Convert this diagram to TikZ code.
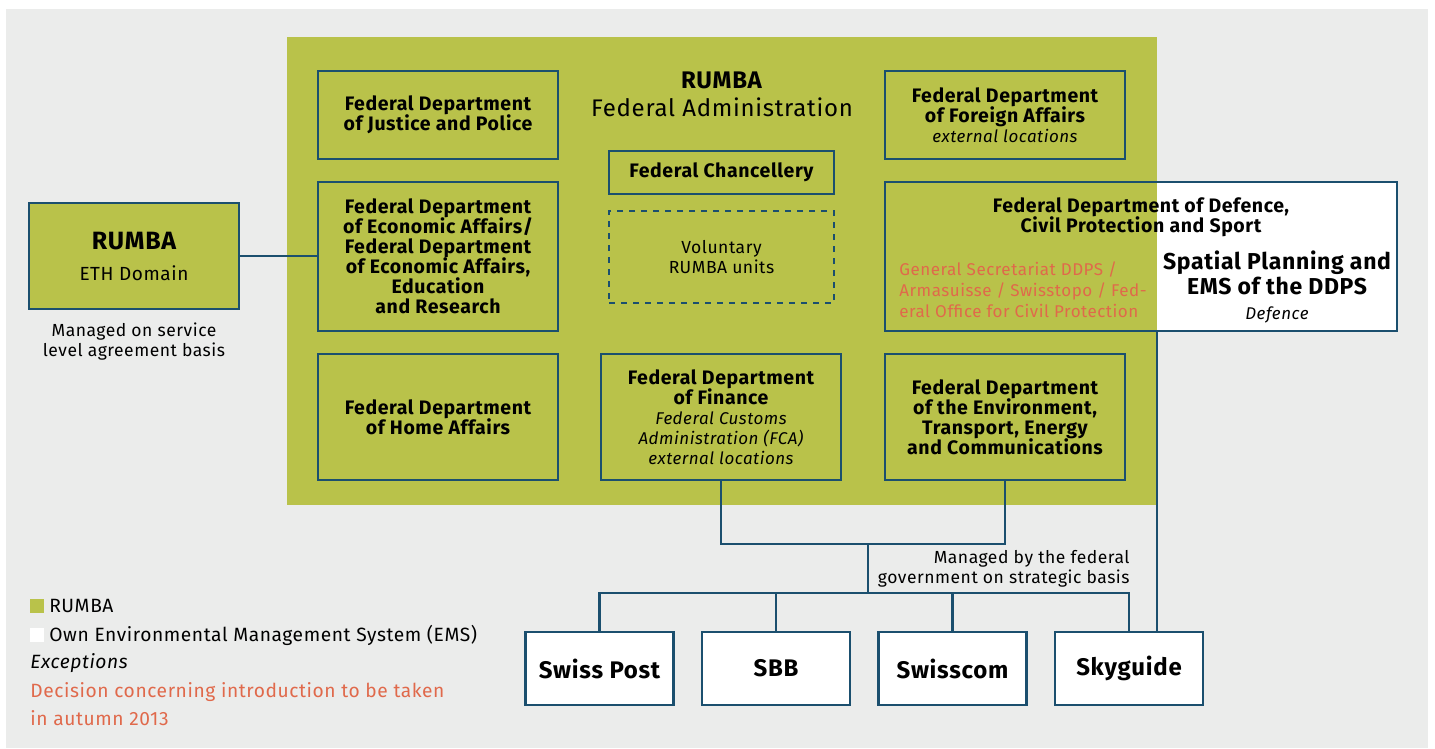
\documentclass[tikz,border=0pt]{standalone}
\usepackage{fontspec}
\setmainfont{Fira Sans}[LetterSpace=3]
\usepackage{xcolor}
\usepackage{tikz}
\usetikzlibrary{positioning}
\definecolor{rumbagreen}{HTML}{B9C24A}
\definecolor{linkblue}{HTML}{1B4F6E}
\definecolor{panelgray}{HTML}{EBECEB}
\definecolor{excred}{HTML}{E0694B}
\setlength{\lineskiplimit}{-\maxdimen}
\newcommand{\deptfont}{\fontsize{9.75}{10}\selectfont\bfseries}
\newcommand{\subfont}{\fontsize{8.5}{10}\selectfont\mdseries\itshape}
\newcommand{\notefont}{\fontsize{8.75}{10}\selectfont}
\newcommand{\bigfont}{\fontsize{11.5}{12.5}\selectfont\bfseries}
\newcommand{\legendfont}{\fontsize{9.6}{14.3}\selectfont}
\tikzset{
  dept/.style={draw=linkblue, line width=1.2pt, fill=rumbagreen, align=center,
    inner sep=0pt, minimum width=120pt, font=\deptfont},
  own/.style={dept, fill=white, minimum width=74pt, minimum height=36.5pt,
    font=\fontsize{12}{12.5}\selectfont\bfseries},
  link/.style={draw=linkblue, line width=1.2pt},
  note/.style={align=center, inner sep=0pt, font=\notefont},
}

\begin{document}
\begin{tikzpicture}[x=0.5pt,y=-0.5pt]
    % basics
    \useasboundingbox (0,0) rectangle (1435,749);
    \fill[white] (0,0) rectangle (1435,749);
    \fill[panelgray] (6,9) rectangle (1428,748);
    \fill[rumbagreen] (287,37) rectangle (1157,505);
    \coordinate (edge) at (1157,505);
    \fill[white] (1157,182) rectangle (1397,331);

    % federal administration
    \node[align=center, inner sep=0pt, font=\fontsize{12}{14}\selectfont] (admin) at (722,94)
        {\textbf{RUMBA}\\Federal Administration};
    \node[dept, minimum height=44pt] (fdjp) at (438,115) {Federal Department\\of Justice and Police};
    \node[dept, minimum height=44pt] (fdfa) at (1005,115)
        {Federal Department\\of Foreign Affairs\\{\subfont external locations}};
    \node[dept, minimum width=112.5pt, minimum height=21.5pt] (fch) at (721.5,172.5) {Federal Chancellery};
    \node[dept, dashed, minimum width=112.5pt, minimum height=46pt, font=\notefont] (vol) at (721.5,257)
        {Voluntary\\RUMBA units};
    \node[dept, minimum height=74.5pt] (fdea) at (438,256.5)
        {Federal Department\\of Economic Affairs/\\Federal Department\\of Economic Affairs,\\Education\\and Research};
    \node[dept, fill=none, minimum width=256pt, minimum height=74.5pt] (ddps) at (1141,256.5) {};
    \node[dept, minimum height=63pt] (fdha) at (438,417) {Federal Department\\of Home Affairs};
    \node[dept, minimum height=63pt] (fdf) at (721,417)
        {Federal Department\\of Finance\\{\subfont Federal Customs}\\{\subfont Administration (FCA)}\\{\subfont external locations}};
    \node[dept, minimum height=63pt] (detec) at (1005,417)
        {Federal Department\\of the Environment,\\Transport, Energy\\and Communications};

    % ddps split
    \node[align=center, inner sep=0pt, font=\deptfont] (ddpstitle) at (1141,217.5)
        {Federal Department of Defence,\\Civil Protection and Sport};
    \node[anchor=west, align=left, inner sep=0pt, text=excred, font=\fontsize{8.5}{10.5}\selectfont] (ddpsgs) at (899,290)
        {General Secretariat DDPS /\\Armasuisse / Swisstopo / Fed-\\eral Office for Civil Protection};
    \node[align=center, inner sep=0pt, font=\bigfont] (ddpsems) at (1277,287)
        {Spatial Planning and\\EMS of the DDPS\\{\subfont Defence}};

    % eth domain
    \node[dept, minimum width=105pt, minimum height=53pt, font=\fontsize{9.5}{15.5}\selectfont] (eth) at (134,256)
        {{\fontsize{12.5}{15.5}\selectfont\bfseries RUMBA}\\ETH Domain};
    \node[note, below=6pt of eth] (ethnote) {Managed on service\\level agreement basis};
    \draw[link] (eth.east) -- (eth.east -| fdea.west);

    % companies
    \node[own] (post) at (599.5,668.5) {Swiss Post};
    \node[own] (sbb) at (776,668.5) {SBB};
    \node[own] (swisscom) at (952.5,668.5) {Swisscom};
    \node[own] (skyguide) at (1129,668.5) {Skyguide};

    \coordinate (join) at (868,544);
    \coordinate (split) at (868,593);
    \draw[link] (fdf.south) |- (join) -| (detec.south);
    \draw[link] (join) -- (split);
    \draw[link] (post.north) |- (split) -| (skyguide.north);
    \draw[link] (sbb.north) -- (sbb.north |- split);
    \draw[link] (swisscom.north) -- (swisscom.north |- split);
    \draw[link] (ddps.south -| edge) -- (skyguide.north -| edge);
    \node[note, align=right, anchor=north east] (strategic) at (1130,550)
        {Managed by the federal\\government on strategic basis};

    % legend
    \fill[rumbagreen] (30,599) rectangle (44,613);
    \fill[white] (30,628) rectangle (44,642);
    \node[anchor=west, inner sep=0pt, font=\legendfont] (lgrumba) at (49,606) {RUMBA};
    \node[anchor=west, inner sep=0pt, font=\legendfont] (lgems) at (49,635) {Own Environmental Management System (EMS)};
    \node[anchor=west, inner sep=0pt, font=\legendfont\itshape] (lgexc) at (30,663) {Exceptions};
    \node[anchor=north west, align=left, inner sep=0pt, text=excred, font=\legendfont] (lgdec) at (30,682)
        {Decision concerning introduction to be taken\\in autumn 2013};
\end{tikzpicture}
\end{document}
